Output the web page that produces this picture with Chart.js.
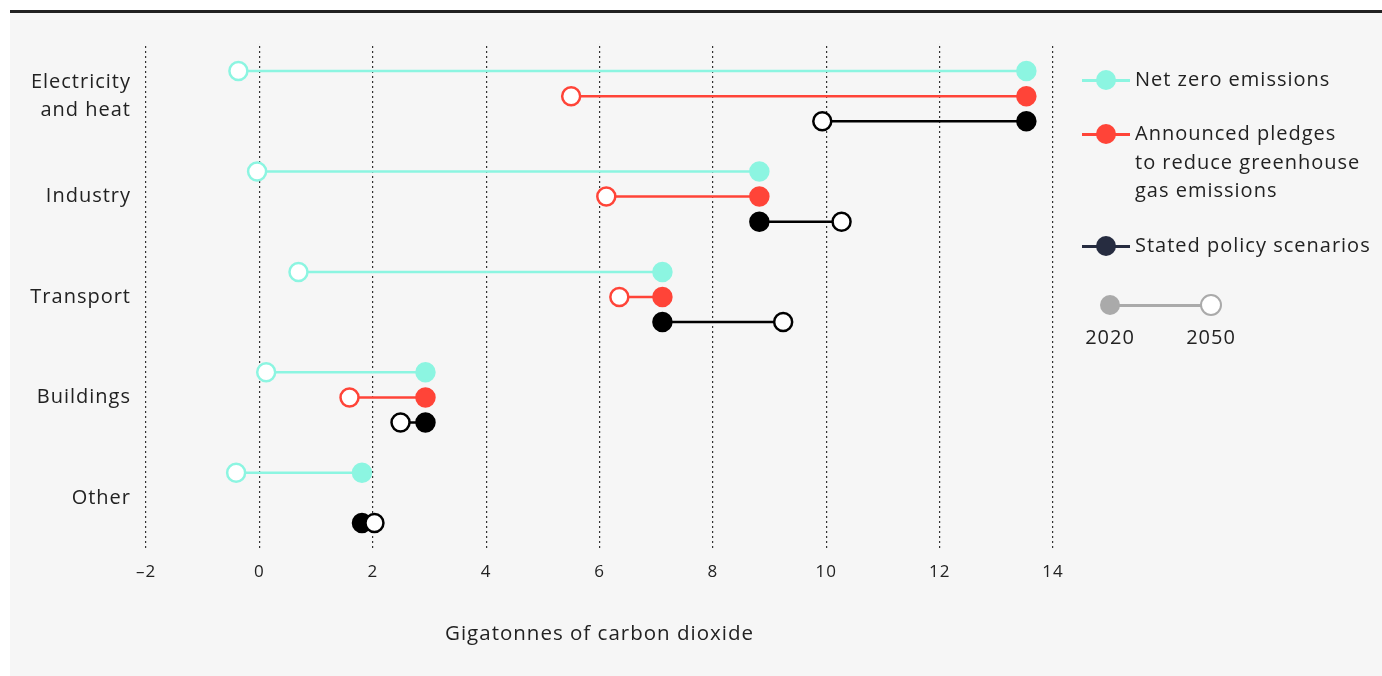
<!DOCTYPE html>
<html><head><meta charset="utf-8">
<script src="https://cdn.jsdelivr.net/npm/chart.js@4"></script>
<style>
html,body{margin:0;padding:0;background:#fff;width:1382px;height:676px;overflow:hidden;font-family:"Open Sans",Lato,sans-serif;color:#222;}
#topline{position:absolute;left:10px;top:10px;width:1372px;height:3px;background:#222;}
#panel{position:absolute;left:10px;top:13px;width:1372px;height:663px;background:#f6f6f6;}
#wrap{position:absolute;left:10px;top:13px;width:1372px;height:663px;}
.lg{position:absolute;font-size:20px;line-height:28.5px;letter-spacing:1px;color:#222;white-space:nowrap;}
.ln{position:absolute;height:2.5px;}
.dot{position:absolute;width:20px;height:20px;border-radius:50%;box-sizing:border-box;}
</style></head>
<body>
<div id="topline"></div>
<div id="panel"></div>
<div id="wrap"><canvas id="c"></canvas></div>

<div class="ln" style="left:1082px;top:79px;width:48px;background:#8cf5e1"></div>
<div class="dot" style="left:1096px;top:70px;background:#8cf5e1"></div>
<div class="lg" style="left:1135px;top:65px">Net zero emissions</div>

<div class="ln" style="left:1082px;top:133px;width:48px;background:#ff4438"></div>
<div class="dot" style="left:1096px;top:124px;background:#ff4438"></div>
<div class="lg" style="left:1135px;top:119px">Announced pledges<br>to reduce greenhouse<br>gas emissions</div>

<div class="ln" style="left:1082px;top:245px;width:48px;background:#262c40"></div>
<div class="dot" style="left:1096px;top:236px;background:#262c40"></div>
<div class="lg" style="left:1135px;top:231px">Stated policy scenarios</div>

<div class="ln" style="left:1110px;top:304px;width:101px;background:#aaaaaa"></div>
<div class="dot" style="left:1100px;top:295px;background:#aaaaaa"></div>
<div class="dot" style="left:1200px;top:294px;width:22px;height:22px;background:#fff;border:2.5px solid #aaaaaa"></div>
<div class="lg" style="left:1070px;top:323px;width:80px;text-align:center">2020</div>
<div class="lg" style="left:1171px;top:323px;width:80px;text-align:center">2050</div>

<script>
const categories = [['Electricity','and heat'], 'Industry', 'Transport', 'Buildings', 'Other'];
const xTicks = [-2, 0, 2, 4, 6, 8, 10, 12, 14];

const netZero2020 = [13.53, 8.82, 7.11, 2.93, 1.81];
const netZero2050 = [-0.37, -0.04, 0.69, 0.12, -0.41];
const pledges2020 = [13.53, 8.82, 7.11, 2.93, null];
const pledges2050 = [5.50, 6.12, 6.35, 1.59, null];
const stated2020 = [13.53, 8.82, 7.11, 2.93, 1.81];
const stated2050 = [9.93, 10.27, 9.24, 2.49, 2.03];

const series = [
  {name: 'Net zero emissions', color: '#8cf5e1', slot: -0.25, a: netZero2020, b: netZero2050},
  {name: 'Announced pledges', color: '#ff4438', slot: 0, a: pledges2020, b: pledges2050},
  {name: 'Stated policy scenarios', color: '#000000', slot: 0.25, a: stated2020, b: stated2050}
];

const datasets = [];
series.forEach(s => {
  categories.forEach((c, i) => {
    if (s.a[i] == null || s.b[i] == null) return;
    datasets.push({
      label: s.name,
      data: [{x: s.a[i], y: i + s.slot}, {x: s.b[i], y: i + s.slot}],
      borderColor: s.color,
      borderWidth: 2.5,
      pointRadius: 9,
      pointHoverRadius: 9,
      pointBorderWidth: 2.5,
      pointBorderColor: s.color,
      pointBackgroundColor: [s.color, '#ffffff'],
      showLine: true,
      fill: false
    });
  });
});

const spacing = {
  id: 'spacing',
  beforeLayout(chart) { chart.ctx.letterSpacing = '1px'; },
  beforeDraw(chart) { chart.ctx.letterSpacing = '1px'; }
};

const font = '"Open Sans",Lato,sans-serif';
new Chart(document.getElementById('c'), {
  type: 'scatter',
  data: {datasets},
  plugins: [spacing],
  options: {
    responsive: true,
    maintainAspectRatio: false,
    animation: false,
    layout: {padding: {top: 33, right: 329, bottom: 0, left: 0}},
    plugins: {legend: {display: false}, tooltip: {enabled: false}},
    scales: {
      x: {
        type: 'linear', position: 'bottom', min: -2, max: 14,
        afterBuildTicks: s => { s.ticks = xTicks.map(v => ({value: v})); },
        afterFit: s => { s.height = 128; },
        ticks: {
          callback: v => v < 0 ? '\u2013' + Math.abs(v) : String(v),
          color: '#222', font: {family: font, size: 17}, padding: 14
        },
        grid: {display: true, drawTicks: false, color: '#333', lineWidth: 1.2},
        border: {display: false, dash: [2, 3]},
        title: {display: true, text: 'Gigatonnes of carbon dioxide', color: '#222',
                font: {family: font, size: 20.5}, padding: {top: 0, bottom: 30}}
      },
      y: {
        type: 'linear', min: -0.5, max: 4.5, reverse: true,
        afterBuildTicks: s => { s.ticks = categories.map((c, i) => ({value: i})); },
        afterFit: s => { s.width = 136; },
        ticks: {
          callback: v => categories[v],
          color: '#222', font: {family: font, size: 20, lineHeight: 1.42}, padding: 7
        },
        grid: {display: false},
        border: {display: false}
      }
    }
  }
});
</script>
</body></html>
